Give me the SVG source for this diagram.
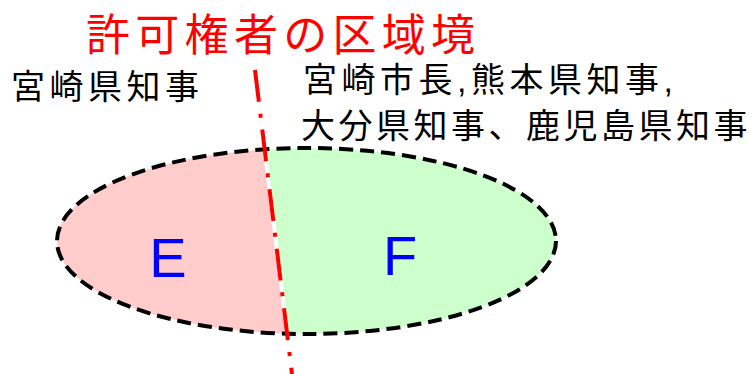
<svg xmlns="http://www.w3.org/2000/svg" width="752" height="374" viewBox="0 0 752 374">
  <style>
    .jp { font-family: "Liberation Sans", "Noto Sans CJK JP", sans-serif; }
    .lbl { font-size: 34px; fill: #000; letter-spacing: 4.5px; }
    .title { font-size: 44px; fill: #FF0000; letter-spacing: 5.3px; }
    .region { font-family: "Liberation Sans", Arial, sans-serif; font-size: 56px; fill: #0000FF; text-anchor: middle; }
    .border { fill: none; stroke: #000; stroke-width: 4; stroke-dasharray: 14 7; }
  </style>
  <defs>
    <clipPath id="ellClip">
      <ellipse cx="306.5" cy="241" rx="249.5" ry="93"/>
    </clipPath>
  </defs>
  <rect width="752" height="374" fill="#FFFFFF"/>

  <g id="area-E">
    <polygon points="0,0 244.5,0 290,374 0,374" fill="#FFCCCC" clip-path="url(#ellClip)"/>
    <text class="region" x="168" y="277">E</text>
  </g>
  <g id="area-F">
    <polygon points="248.5,0 294,374 752,374 752,0" fill="#CCFFCC" clip-path="url(#ellClip)"/>
    <text class="region" x="400" y="275">F</text>
  </g>
  <g id="outline">
    <ellipse class="border" cx="306.5" cy="241" rx="249.5" ry="93"/>
  </g>

  <g id="connectors">
    <line x1="255" y1="70" x2="292" y2="374" stroke="#FF0000" stroke-width="4" stroke-dasharray="32 12 4 12"/>
  </g>

  <g id="title">
    <text class="jp title" x="86" y="51">許可権者の区域境</text>
  </g>
  <g id="label-left">
    <text class="jp lbl" x="11" y="99">宮崎県知事</text>
  </g>
  <g id="label-right">
    <text class="jp lbl" x="303" y="92">宮崎市長,熊本県知事,</text>
    <text class="jp lbl" x="301" y="138" style="letter-spacing:3.5px">大分県知事、鹿児島県知事</text>
  </g>
</svg>
